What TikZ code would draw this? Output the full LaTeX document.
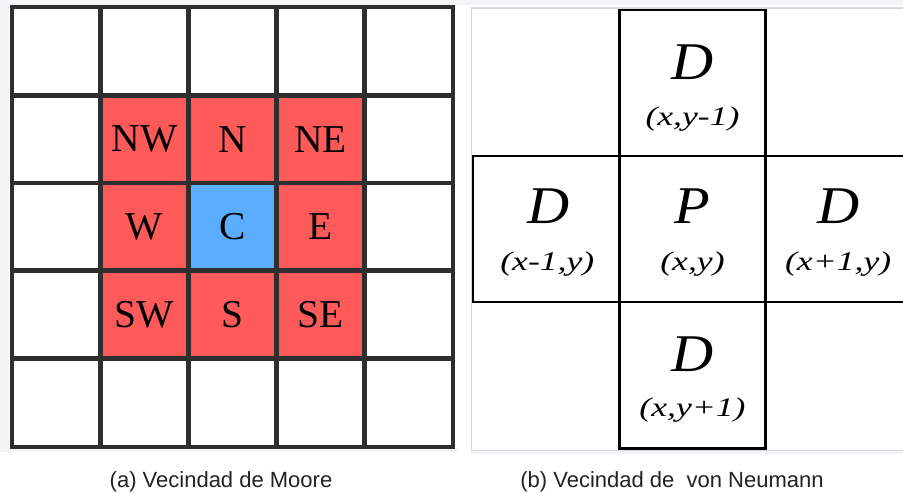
\documentclass[tikz,border=0pt]{standalone}
\usepackage{fontspec}
\setmainfont{Liberation Serif}
\newfontfamily\capfont{Liberation Sans}
\newfontfamily\bigit[FakeStretch=1.1]{Liberation Serif}
\newfontfamily\coordit[FakeStretch=1.32]{Liberation Serif}
\definecolor{moorered}{HTML}{FF5A5A}
\definecolor{mooreblue}{HTML}{5AADFF}
\definecolor{gridline}{HTML}{2E2E2E}
\definecolor{panelgray}{HTML}{F3F4F6}
\definecolor{framegray}{HTML}{D3D6DA}
\definecolor{captext}{HTML}{222222}
\tikzset{
  mcell/.style={draw=gridline, line width=2.4pt, minimum width=87.9pt, minimum height=87.8pt, inner sep=0pt, anchor=center},
  mlabel/.style={font=\fontsize{39.5}{39.5}\selectfont, inner sep=0pt},
  ncell/.style={draw=black, line width=2.3pt, minimum width=146pt, minimum height=146.3pt, inner sep=0pt},
  bigletter/.style={font=\bigit\itshape\fontsize{53}{53}\selectfont, inner sep=0pt},
  coordtext/.style={font=\coordit\itshape\fontsize{27}{27}\selectfont, inner sep=0pt},
  captionstyle/.style={font=\capfont\fontsize{22}{22}\selectfont, text=captext, inner sep=0pt}
}
\begin{document}
\begin{tikzpicture}[x=1pt,y=-1pt]
\useasboundingbox (0,0) rectangle (903,494);
\fill[white] (0,0) rectangle (903,494);
% light background bands
\fill[panelgray] (0,0) rectangle (903,5.5);
\fill[panelgray] (0,0) rectangle (9,452);
\fill[panelgray] (9,448.5) rectangle (458,452);
\fill[panelgray] (471,450.5) rectangle (903,453.5);
% right panel light frame
\draw[framegray, line width=1.6pt] (903,8) -- (471.5,8) -- (471.5,450.5) -- (903,450.5);
% ---------- Moore neighbourhood ----------
\foreach \i in {0,...,4}{
  \foreach \j in {0,...,4}{
    \pgfmathtruncatemacro{\ring}{max(abs(\i-2),abs(\j-2))}
    \ifnum\ring=0
      \node[mcell, fill=mooreblue] (m-\i-\j) at ({12.7+87.9*(\i+0.5)},{7.5+87.8*(\j+0.5)}) {};
    \else\ifnum\ring=1
      \node[mcell, fill=moorered] (m-\i-\j) at ({12.7+87.9*(\i+0.5)},{7.5+87.8*(\j+0.5)}) {};
    \else
      \node[mcell, fill=white] (m-\i-\j) at ({12.7+87.9*(\i+0.5)},{7.5+87.8*(\j+0.5)}) {};
    \fi\fi
  }
}
% redraw outlines on top so that all lines show fully
\foreach \i in {0,...,4}{
  \foreach \j in {0,...,4}{
    \draw[gridline, line width=2.4pt] (m-\i-\j.north west) rectangle (m-\i-\j.south east);
  }
}
\node[mlabel] (lNW) at (m-1-1) {NW};
\node[mlabel] (lN)  at (m-2-1) {N};
\node[mlabel] (lNE) at (m-3-1) {NE};
\node[mlabel] (lW)  at (m-1-2) {W};
\node[mlabel] (lC)  at (m-2-2) {C};
\node[mlabel] (lE)  at (m-3-2) {E};
\node[mlabel] (lSW) at (m-1-3) {SW};
\node[mlabel] (lS)  at (m-2-3) {S};
\node[mlabel] (lSE) at (m-3-3) {SE};
% ---------- von Neumann neighbourhood ----------
\begin{scope}
\clip (0,0) rectangle (903,494);
\node[ncell] (nT) at (692.5,82.85) {};
\node[ncell] (nL) at (546.3,229) {};
\node[ncell] (nC) at (692.5,229) {};
\node[ncell] (nR) at (838.7,229) {};
\node[ncell] (nB) at (692.5,375.3) {};
\end{scope}
\node[bigletter] (dT) at ([yshift=21pt]nT.center) {D};
\node[coordtext] (cT) at ([yshift=-36pt]nT.center) {(x,y-1)};
\node[bigletter] (dL) at ([xshift=2pt,yshift=23pt]nL.center) {D};
\node[coordtext] (cL) at ([xshift=1pt,yshift=-35pt]nL.center) {(x-1,y)};
\node[bigletter] (pC) at ([yshift=23pt]nC.center) {P};
\node[coordtext] (cC) at ([yshift=-35pt]nC.center) {(x,y)};
\node[bigletter] (dR) at ([xshift=0pt,yshift=23pt]nR.center) {D};
\node[coordtext] (cR) at ([xshift=-0.5pt,yshift=-35pt]nR.center) {(x+1,y)};
\node[bigletter] (dB) at ([yshift=21pt]nB.center) {D};
\node[coordtext] (cB) at ([yshift=-35pt]nB.center) {(x,y+1)};
% ---------- captions ----------
\node[captionstyle] (capA) at (221,482) {(a) Vecindad de Moore};
\node[captionstyle] (capB) at (672,482) {(b) Vecindad de\ \ von Neumann};
\end{tikzpicture}
\end{document}
